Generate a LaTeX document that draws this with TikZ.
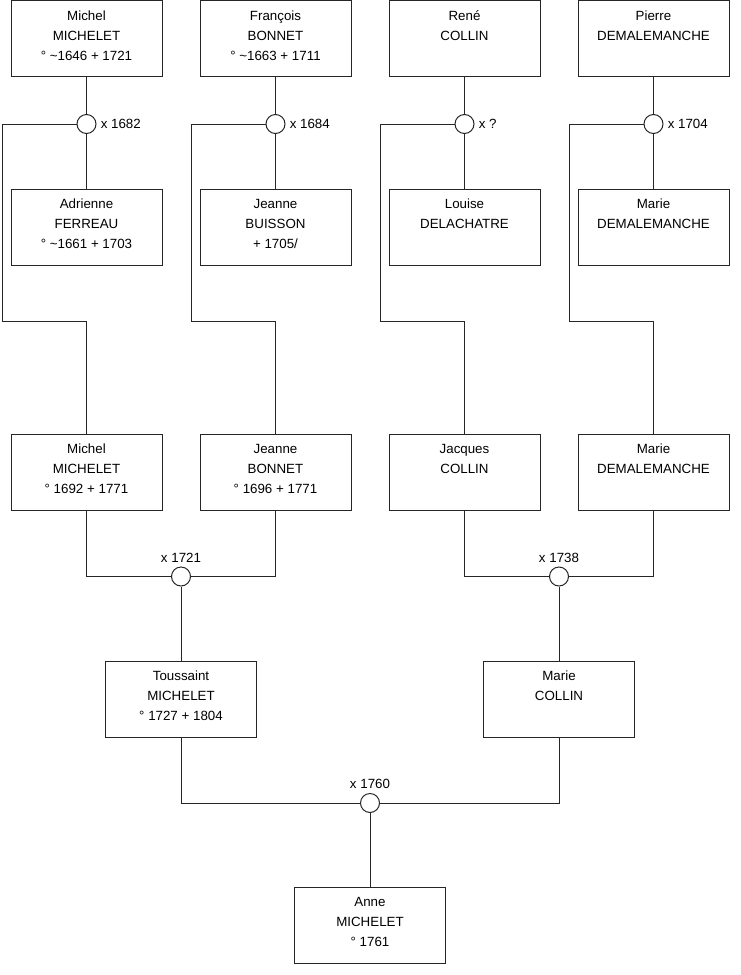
\documentclass[tikz,border=0pt]{standalone}
\usepackage{fontspec}
\setmainfont{Liberation Sans}
\usetikzlibrary{positioning}

\begin{document}
\begin{tikzpicture}[x=0.75pt, y=-0.75pt,
        person/.style={draw=black!85, line width=0.75pt, minimum width=113.25pt, minimum height=57pt,
            inner sep=0pt, align=center, font=\fontsize{10}{15}\selectfont,
            execute at end node={\rule[-4.5pt]{0pt}{0pt}}},
        wedding/.style={circle, draw=black!85, line width=0.75pt, fill=white, minimum size=14.25pt, inner sep=0pt},
        wdate/.style={inner sep=1pt, font=\fontsize{10}{12}\selectfont},
        link/.style={draw=black!85, line width=0.75pt}]
        \useasboundingbox (0,0) rectangle (740,975);

        % Husbands
        \node[person] (mmichelet) at (86.5,38.5) {Michel\\MICHELET\\° \textasciitilde1646 + 1721};
        \node[person] (fbonnet) at (275.5,38.5) {François\\BONNET\\° \textasciitilde1663 + 1711};
        \node[person] (rcollin) at (464.5,38.5) {René\\COLLIN\\\mbox{}};
        \node[person] (pdemal) at (653.5,38.5) {Pierre\\DEMALEMANCHE\\\mbox{}};

        % Wives
        \node[person] (aferreau) at (86.5,227) {Adrienne\\FERREAU\\° \textasciitilde1661 + 1703};
        \node[person] (jbuisson) at (275.5,227) {Jeanne\\BUISSON\\+ 1705/};
        \node[person] (ldelachatre) at (464.5,227) {Louise\\DELACHATRE\\\mbox{}};
        \node[person] (mdemal) at (653.5,227) {Marie\\DEMALEMANCHE\\\mbox{}};

        % Weddings
        \node[wedding] (w1) at (86.5,124) {};
        \node[wedding] (w2) at (275.5,124) {};
        \node[wedding] (w3) at (464.5,124) {};
        \node[wedding] (w4) at (653.5,124) {};
        \node[wdate, right=2pt of w1] (d1) {x 1682};
        \node[wdate, right=2pt of w2] (d2) {x 1684};
        \node[wdate, right=2pt of w3] (d3) {x ?};
        \node[wdate, right=2pt of w4] (d4) {x 1704};

        % Children
        \node[person] (mmichelet2) at (86.5,472) {Michel\\MICHELET\\° 1692 + 1771};
        \node[person] (jbonnet) at (275.5,472) {Jeanne\\BONNET\\° 1696 + 1771};
        \node[person] (jcollin) at (464.5,472) {Jacques\\COLLIN\\\mbox{}};
        \node[person] (mdemal2) at (653.5,472) {Marie\\DEMALEMANCHE\\\mbox{}};

        \coordinate (b1) at (2,321);
        \coordinate (b2) at (191,321);
        \coordinate (b3) at (380,321);
        \coordinate (b4) at (569,321);

        \draw[link] (mmichelet) -- (w1) -- (aferreau);
        \draw[link] (fbonnet) -- (w2) -- (jbuisson);
        \draw[link] (rcollin) -- (w3) -- (ldelachatre);
        \draw[link] (pdemal) -- (w4) -- (mdemal);
        \draw[link] (w1) -| (b1) -| (mmichelet2);
        \draw[link] (w2) -| (b2) -| (jbonnet);
        \draw[link] (w3) -| (b3) -| (jcollin);
        \draw[link] (w4) -| (b4) -| (mdemal2);

        % Second weddings
        \node[wedding] (w5) at (181,576.5) {};
        \node[wedding] (w6) at (559,576.5) {};
        \node[wdate, above=2pt of w5] (d5) {x 1721};
        \node[wdate, above=2pt of w6] (d6) {x 1738};

        \node[person] (tmichelet) at (181,699) {Toussaint\\MICHELET\\° 1727 + 1804};
        \node[person] (mcollin) at (559,699) {Marie\\COLLIN\\\mbox{}};

        \draw[link] (mmichelet2) |- (w5);
        \draw[link] (jbonnet) |- (w5);
        \draw[link] (w5) -- (tmichelet);
        \draw[link] (jcollin) |- (w6);
        \draw[link] (mdemal2) |- (w6);
        \draw[link] (w6) -- (mcollin);

        % Last wedding
        \node[wedding] (w7) at (370,803) {};
        \node[wdate, above=2pt of w7] (d7) {x 1760};
        \node[person] (amichelet) at (370,925) {Anne\\MICHELET\\° 1761};

        \draw[link] (tmichelet) |- (w7);
        \draw[link] (mcollin) |- (w7);
        \draw[link] (w7) -- (amichelet);
\end{tikzpicture}
\end{document}
